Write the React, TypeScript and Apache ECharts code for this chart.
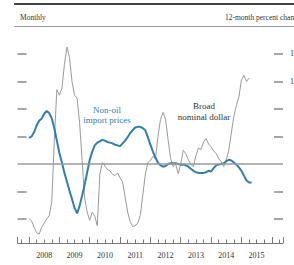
import React, { useEffect, useRef } from "react";
import * as echarts from "echarts";

// Monthly observations starting January 2008 (index 0 = Jan 2008)
const START_YEAR = 2008;
const importPrices: number[] = [
  3.8, 4.0, 4.6, 5.6, 6.3, 6.6, 7.3, 7.7, 7.4, 6.6, 5.2, 3.4,
  1.6, 0.2, -1.3, -2.6, -3.9, -5.1, -6.4, -7.2, -6.1, -4.6, -3.0, -1.2,
  0.6, 1.8, 2.7, 3.1, 3.3, 3.5, 3.4, 3.2, 3.1, 3.0, 2.8, 2.7,
  2.6, 3.0, 3.4, 3.9, 4.5, 4.9, 5.3, 5.4, 5.4, 5.2, 4.9, 3.9,
  2.8, 1.8, 0.9, 0.2, -0.2, -0.4, -0.3, 0.0, 0.1, 0.1, 0.1, 0.0,
  -0.1, -0.1, -0.2, -0.4, -0.7, -1.0, -1.2, -1.3, -1.3, -1.3, -1.2, -1.0,
  -1.1, -0.6, -0.2, -0.1, 0.0, 0.1, 0.4, 0.6, 0.5, 0.2, -0.1, -0.5,
  -1.0, -1.7, -2.4, -2.7, -2.7,
];
const broadDollar: number[] = [
  -7.9, -8.3, -9.2, -10.0, -10.2, -9.2, -8.6, -8.0, -7.5, -5.5, 3.5, 10.8,
  10.0, 11.0, 14.5, 17.0, 15.5, 12.0, 10.0, 9.6, 6.0, 0.5, -5.0, -7.0,
  -8.2, -7.0, -7.6, -9.0, -1.5, 0.2, -0.3, -0.8, -1.0, -1.5, -1.7, -1.3,
  -2.0, -2.6, -4.8, -7.0, -8.4, -9.1, -9.0, -8.6, -7.5, -4.5, -1.5, 0.2,
  0.5, 1.1, 0.7, 4.0, 6.5, 7.5, 6.5, 3.5, 0.8, -0.4, 0.0, -1.4,
  0.0, 2.0, 1.5, 0.6, 0.0, -0.4, 1.2, 2.3, 2.1, 3.2, 3.7, 2.9,
  2.5, 1.9, 1.5, 0.8, 0.3, -0.4, 0.6, 2.0, 4.5, 6.9, 8.5, 9.8,
  12.2, 12.9, 12.0, 12.5,
];
const yTickValues: number[] = [-8, -4, 4, 8, 12, 16];
const yLabelValues: number[] = [12, 16];
const yearLabels: number[] = [2008, 2009, 2010, 2011, 2012, 2013, 2014, 2015];

const toPoints = (vals: number[]) =>
  vals.map((v, i) => [START_YEAR + i / 12, v]);

export default function App() {
  const ref = useRef<HTMLDivElement>(null);
  useEffect(() => {
    document.body.style.margin = "0";
    if (!ref.current) return;
    const chart = echarts.init(ref.current, undefined, { renderer: "svg" });
    const X_MIN = 2007.62;
    const X_MAX = 2016.37;
    const quarters: number[] = [];
    for (let q = 2007.75; q <= 2016.26; q += 0.25) quarters.push(Math.round(q * 100) / 100);
    const yearTicks: number[] = [X_MIN];
    for (let y = 2008; y <= 2016; y++) yearTicks.push(y);
    yearTicks.push(X_MAX);
    const serif = "Liberation Serif";
    chart.setOption({
      animation: false,
      grid: {
        left: 17.5,
        right: 11,
        top: 26.5,
        bottom: 22,
        containLabel: false,
        outerBoundsMode: "none",
      },
      xAxis: [
        {
          type: "value",
          min: X_MIN,
          max: X_MAX,
          axisLine: { show: true, onZero: false, lineStyle: { color: "#777", width: 1 } },
          axisTick: {
            show: true,
            inside: true,
            length: 3.5,
            customValues: quarters,
            lineStyle: { color: "#777" },
          },
          axisLabel: {
            show: true,
            customValues: yearLabels.map((y) => y + 0.5),
            formatter: (v: number) => String(Math.floor(v)),
            fontFamily: serif,
            fontSize: 8,
            color: "#333",
            margin: 8,
          },
          splitLine: { show: false },
        },
        {
          type: "value",
          min: X_MIN,
          max: X_MAX,
          position: "bottom",
          axisLine: { show: false, onZero: false },
          axisTick: {
            show: true,
            inside: true,
            length: 6,
            customValues: yearTicks,
            lineStyle: { color: "#777" },
          },
          axisLabel: { show: false },
          splitLine: { show: false },
        },
      ],
      yAxis: [
        {
          type: "value",
          min: -11.5,
          max: 20,
          position: "left",
          axisLine: { show: false },
          axisTick: {
            show: true,
            inside: true,
            length: 9,
            customValues: yTickValues,
            lineStyle: { color: "#888", width: 1.5 },
          },
          axisLabel: { show: false },
          splitLine: { show: false },
        },
        {
          type: "value",
          min: -11.5,
          max: 20,
          position: "right",
          axisLine: { show: false },
          axisTick: {
            show: true,
            inside: true,
            length: 9,
            customValues: yTickValues,
            lineStyle: { color: "#888", width: 1.5 },
          },
          axisLabel: {
            show: true,
            customValues: yLabelValues,
            align: "right",
            margin: 15,
            fontFamily: serif,
            fontSize: 8,
            color: "#333",
          },
          splitLine: { show: false },
        },
      ],
      series: [
        {
          name: "Broad nominal dollar",
          type: "line",
          data: toPoints(broadDollar),
          showSymbol: false,
          lineStyle: { color: "#9a9a9a", width: 1 },
          z: 2,
          markLine: {
            silent: true,
            symbol: ["none", "none"],
            label: { show: false },
            lineStyle: { color: "#9a9a9a", width: 1.5, type: "solid" },
            data: [{ yAxis: 0 }],
          },
        },
        {
          name: "Non-oil import prices",
          type: "line",
          data: toPoints(importPrices),
          showSymbol: false,
          lineStyle: { color: "#2f7eae", width: 2 },
          z: 3,
        },
      ],
      graphic: [
        {
          type: "line",
          shape: { x1: 14, y1: 4, x2: 294, y2: 4 },
          style: { stroke: "#444", lineWidth: 2 },
        },
        {
          type: "line",
          shape: { x1: 14, y1: 26.5, x2: 294, y2: 26.5 },
          style: { stroke: "#999", lineWidth: 1 },
        },
        {
          type: "text",
          x: 20,
          y: 17,
          style: {
            text: "Monthly",
            fontFamily: serif,
            fontSize: 7.5,
            fill: "#333",
            verticalAlign: "middle",
          },
        },
        {
          type: "text",
          x: 225,
          y: 17,
          style: {
            text: "12-month percent change",
            fontFamily: serif,
            fontSize: 7.5,
            fill: "#333",
            verticalAlign: "middle",
          },
        },
        {
          type: "text",
          x: 107,
          y: 115,
          style: {
            text: "Non-oil\nimport prices",
            fontFamily: serif,
            fontSize: 9,
            lineHeight: 10.5,
            fill: "#2f7eae",
            align: "center",
            verticalAlign: "middle",
          },
        },
        {
          type: "text",
          x: 204,
          y: 111,
          style: {
            text: "Broad\nnominal dollar",
            fontFamily: serif,
            fontSize: 9,
            lineHeight: 11,
            fill: "#333",
            align: "center",
            verticalAlign: "middle",
          },
        },
      ],
    });
    return () => chart.dispose();
  }, []);
  return <div ref={ref} style={{ width: 294, height: 265 }} />;
}
